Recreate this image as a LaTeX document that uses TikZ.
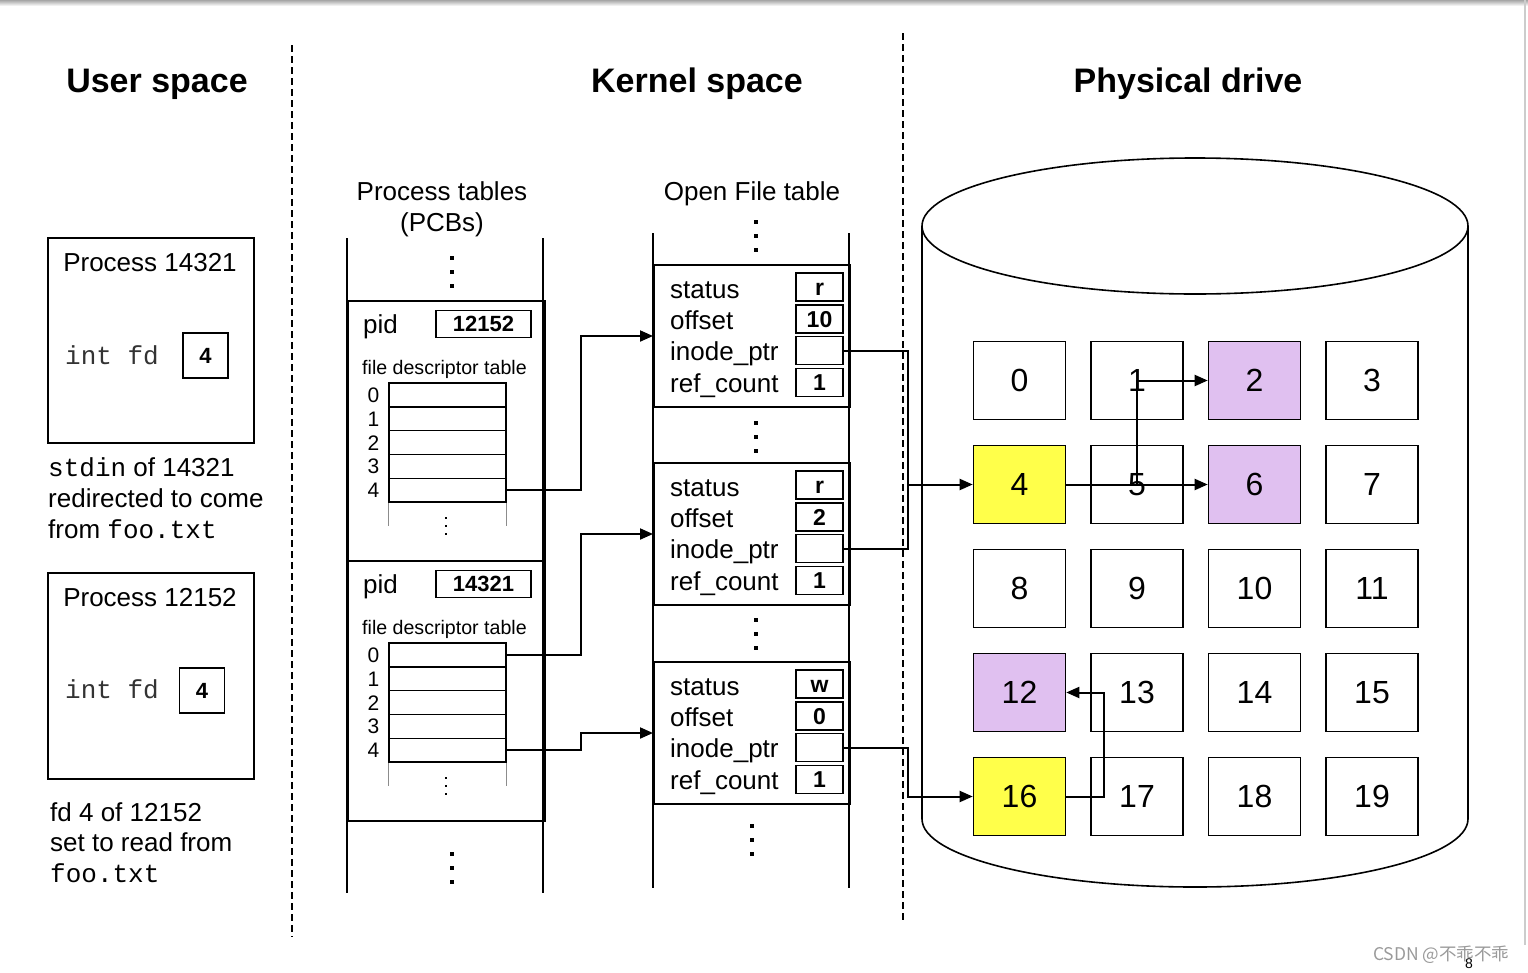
\documentclass[tikz,border=0pt]{standalone}
\usepackage{fontspec}
\setmainfont{Liberation Sans}
\setmonofont{Liberation Mono}
\newfontfamily\cjkfont{Noto Sans CJK SC}
\usetikzlibrary{arrows.meta,positioning,calc}
\definecolor{Lilac}{HTML}{E0C0F0}
\definecolor{Lemon}{HTML}{FFFF4A}
\definecolor{Mark}{HTML}{9A9A9A}

\tikzset{
  hdr/.style={font=\bfseries\fontsize{34}{40}\selectfont},
  txt/.style={font=\fontsize{26}{31}\selectfont,inner sep=0pt},
  code/.style={font=\ttfamily\fontsize{26}{31}\selectfont,inner sep=0pt,text=black!80},
  small/.style={font=\fontsize{19.6}{24}\selectfont,inner sep=0pt},
  panel/.style={draw,line width=1.6pt,inner sep=0pt,anchor=north west},
  valbox/.style={draw,line width=1.6pt,minimum width=47pt,minimum height=28pt,inner sep=0pt,text height=16.5pt,text depth=0pt,font=\bfseries\fontsize{23}{26}\selectfont},
  fdrow/.style={draw,line width=1.4pt,minimum width=117pt,minimum height=23.8pt,inner sep=0pt},
  blk/.style={draw,line width=1.6pt,minimum width=92pt,minimum height=78pt,inner sep=0pt,font=\fontsize{32}{36}\selectfont},
  hot2/.style={fill=Lilac}, hot6/.style={fill=Lilac}, hot12/.style={fill=Lilac},
  hot4/.style={fill=Lemon}, hot16/.style={fill=Lemon},
  wire/.style={line width=2pt},
  divider/.style={line width=1.5pt,dash pattern=on 7pt off 4pt},
  dots/.pic={\foreach \k in {-1,0,1} \fill (-2,\k*14-2) rectangle ++(4,4);},
  tinydots/.pic={\foreach \k in {-1,0,1} \fill (-1,\k*8-1) rectangle ++(2,2);},
}

\begin{document}
\begin{tikzpicture}[x=1pt,y=-1pt,>={Triangle[length=13pt,width=11pt]}]
\useasboundingbox (0,0) rectangle (1528,972);
% page edges
\shade[top color=black!35,bottom color=white] (0,0) rectangle (1528,6);
\draw[black!20,line width=2pt] (1525,0) -- (1525,945);

% columns
\draw[divider] (292,45) -- (292,937);
\draw[divider] (903,33) -- (903,922);
\node[hdr,anchor=base] (userH) at (157,92) {User space};
\node[hdr,anchor=base] (kernH) at (697,92) {Kernel space};
\node[hdr,anchor=base] (driveH) at (1188,92) {Physical drive};

% user space
\node[panel,minimum width=206pt,minimum height=205pt] (procA) at (47,237) {};
\node[txt,anchor=base] at (150,271) {Process 14321};
\node[code,anchor=base west] at (65,364) {int fd};
\node[valbox,minimum width=45pt,minimum height=45pt,font=\bfseries\fontsize{22}{24}\selectfont,text height=15.8pt] (fdA) at (205.5,355.5) {4};
\node[txt,anchor=north west,align=left] (capA) at (48,457) {\texttt{stdin} of 14321\\redirected to come\\from \texttt{foo.txt}};

\node[panel,minimum width=206pt,minimum height=206pt] (procB) at (47,572) {};
\node[txt,anchor=base] at (150,606) {Process 12152};
\node[code,anchor=base west] at (65,698) {int fd};
\node[valbox,minimum width=45pt,minimum height=45pt,font=\bfseries\fontsize{22}{24}\selectfont,text height=15.8pt] (fdB) at (202,690.5) {4};
\node[txt,anchor=north west,align=left,font=\fontsize{26}{30.5}\selectfont] (capB) at (50,802) {fd 4 of 12152\\set to read from\\\texttt{foo.txt}};

% process tables
\draw[line width=1.5pt] (347,238) -- (347,893);
\draw[line width=1.5pt] (543,238) -- (543,893);
\node[txt,anchor=north,align=center] (pcbT) at (442,181) {Process tables\\(PCBs)};
\pic at (452,272) {dots};
\foreach \nm/\top/\pid in {pA/300/12152,pB/560/14321} {
  \node[panel,minimum width=197pt,minimum height=260pt] (\nm) at (347,\top) {};
  \node[txt,anchor=base west] at (363,\top+33) {pid};
  \node[valbox,minimum width=95pt,minimum height=27pt,font=\bfseries\fontsize{22}{24}\selectfont,text height=15.8pt] (\nm-pid) at (483.5,\top+24) {\pid};
  \node[small,anchor=base west] at (362,\top+74) {file descriptor table};
  \foreach \k in {0,...,4} {
    \node[fdrow] (\nm-\k) at (447.5,\top+94.9+23.8*\k) {};
    \node[small,font=\fontsize{21}{24}\selectfont,anchor=base] at (373.5,\top+102.4+23.8*\k) {\k};
  }
  \draw[black!45,line width=1.2pt] (\nm-4.south west) -- ++(0,23);
  \draw[black!45,line width=1.2pt] (\nm-4.south east) -- ++(0,23);
  \pic at (446,\top+226) {tinydots};
}
\pic at (452,868) {dots};

% open file table
\draw[line width=1.5pt] (653,233) -- (653,888);
\draw[line width=1.5pt] (849,233) -- (849,888);
\node[txt,anchor=base] (oftT) at (752,200) {Open File table};
\pic at (756,236) {dots};
\foreach \nm/\top/\st/\off in {ofA/264/r/10,ofB/462/r/2,ofC/661/w/0} {
  \node[panel,minimum width=196pt,minimum height=142pt] (\nm) at (653,\top) {};
  \coordinate (\nm-in) at (653,\top+72);
  \node[txt,anchor=base west] at (670,\top+34) {status};
  \node[txt,anchor=base west] at (670,\top+65) {offset};
  \node[txt,anchor=base west] at (670,\top+96) {inode\_ptr};
  \node[txt,anchor=base west] at (670,\top+128) {ref\_count};
  \node[valbox] (\nm-st) at (819.5,\top+23) {\st};
  \node[valbox] (\nm-off) at (819.5,\top+55) {\off};
  \node[valbox] (\nm-ip) at (819.5,\top+86.5) {};
  \node[valbox] (\nm-rc) at (819.5,\top+118.5) {1};
}
\pic at (756,437) {dots};
\pic at (756,634) {dots};
\pic at (752,840) {dots};

% physical drive
\draw[line width=1.6pt] (1195,226) ellipse [x radius=273pt,y radius=68pt];
\draw[line width=1.6pt] (922,226) -- (922,819) arc[start angle=180,end angle=360,x radius=273pt,y radius=68pt] -- (1468,226);
\foreach \n in {0,...,19} {
  \pgfmathtruncatemacro\c{mod(\n,4)}
  \pgfmathtruncatemacro\r{div(\n,4)}
  \node[blk,hot\n/.try] (b\n) at (1019.5+117.5*\c,380.5+104*\r) {\n};
}

% pointers
\draw[wire,->] (pA-4.east) -- ++(74,0) |- (ofA-in);
\draw[wire,->] (pB-0.east) -- ++(74,0) |- (ofB-in);
\draw[wire,->] (pB-4.east) -- ++(74,0) |- (ofC-in);
\coordinate (jn) at (908,484.5);
\draw[wire] (ofA-ip.east) -| (jn) |- (ofB-ip.east);
\draw[wire,->] (jn) -- (b4.west);
\draw[wire,->] (ofC-ip.east) -- (ofC-ip.east -| jn) |- (b16.west);
\draw[wire,->] (b4.east) -- (b6.west);
\draw[wire,->] (b5.center) |- (b2.west);
\draw[wire,->] (b16.east) -- ++(38,0) |- (b12.east);

% watermark
\node[font=\cjkfont\fontsize{17.5}{20}\selectfont,text=Mark,anchor=base east] (mark) at (1513,960) {CSDN @不乖不乖};
\node[font=\fontsize{14}{16}\selectfont,anchor=base] (pgno) at (1469,968) {8};
\end{tikzpicture}
\end{document}
